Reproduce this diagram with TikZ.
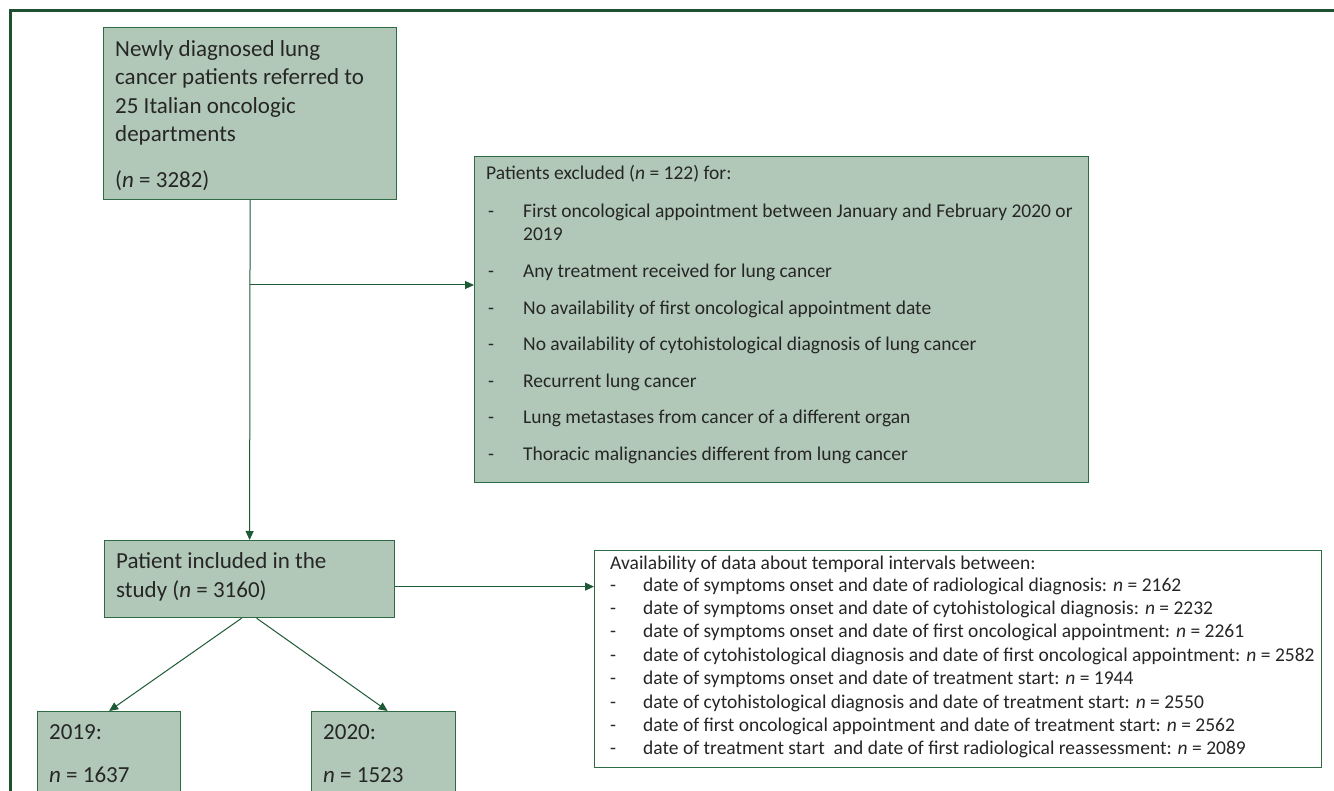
\documentclass[tikz,border=0pt]{standalone}
\usepackage{fontspec}
\setmainfont{Carlito}
\usetikzlibrary{arrows.meta,calc}
\definecolor{boxfill}{HTML}{B1C8B8}
\definecolor{boxline}{HTML}{2E6B45}
\definecolor{framec}{HTML}{1F5032}
\definecolor{arrowc}{HTML}{1E5A36}
\definecolor{txt}{HTML}{262626}
\tikzset{
  box/.style={draw=boxline, fill=boxfill, line width=1.2pt, inner sep=0pt, anchor=north west},
  wbox/.style={draw=boxline, fill=white, line width=1.2pt, inner sep=0pt, anchor=north west},
  arr/.style={draw=arrowc, line width=1pt, -{Triangle[length=9pt,width=8pt]}},
  txtbase/.style={text=txt, inner sep=0pt, anchor=base west, align=left},
  big/.style={txtbase, font=\fontsize{23}{28.5}\selectfont},
  mid/.style={txtbase, font=\fontsize{19.5}{23}\selectfont},
}
\begin{document}
\begin{tikzpicture}[x=1pt,y=-1pt]
\clip (0,0) rectangle (1334,791);
\fill[white] (0,0) rectangle (1334,791);
% frame
\draw[draw=framec, line width=3pt] (10,800) -- (10,11) -- (1340,11);

% boxes
\node[box, minimum width=293pt, minimum height=172pt] (top) at (103,27) {};
\node[box, minimum width=614pt, minimum height=326pt] (excl) at (474,156) {};
\node[box, minimum width=290pt, minimum height=77pt] (inc) at (104,540) {};
\node[wbox, minimum width=727pt, minimum height=217pt] (avail) at (594,550) {};
\node[box, minimum width=143pt, minimum height=85pt] (y19) at (37,711) {};
\node[box, minimum width=144pt, minimum height=85pt] (y20) at (311,711) {};

% texts (multi-line texts are placed by the baseline of their last line)
\node[big] (ttop) at (115,142) {Newly diagnosed lung\\cancer patients referred to\\25 Italian oncologic\\departments};
\node[big] (ntop) at (115,188) {(\textit{n} = 3282)};
\node[big] (tinc) at (116,597) {Patient included in the\\study (\textit{n} = 3160)};
\node[big] (t19a) at (49,739) {2019:};
\node[big] (t19b) at (49,782) {\textit{n} = 1637};
\node[big] (t20a) at (323,739) {2020:};
\node[big] (t20b) at (323,782) {\textit{n} = 1523};

\node[mid] (texcl) at (486,180) {Patients excluded (\textit{n} = 122) for:};
\node[mid] (ed1) at (488,218) {-};
\node[mid] (et1) at (523,241) {First oncological appointment between January and February 2020 or\\2019};
\foreach \t [count=\i] in {Any treatment received for lung cancer,
  No availability of first oncological appointment date,
  No availability of cytohistological diagnosis of lung cancer,
  Recurrent lung cancer,
  Lung metastases from cancer of a different organ,
  Thoracic malignancies different from lung cancer}{
  \node[mid] (edx\i) at (488,241.5+36.5*\i) {-};
  \node[mid] (etx\i) at (523,241.5+36.5*\i) {\t};
}

\node[mid] (tavail) at (610,569) {Availability of data about temporal intervals between:};
\foreach \t [count=\i] in {date of symptoms onset and date of radiological diagnosis: \textit{n} = 2162,
  date of symptoms onset and date of cytohistological diagnosis: \textit{n} = 2232,
  date of symptoms onset and date of first oncological appointment: \textit{n} = 2261,
  date of cytohistological diagnosis and date of first oncological appointment: \textit{n} = 2582,
  date of symptoms onset and date of treatment start: \textit{n} = 1944,
  date of cytohistological diagnosis and date of treatment start: \textit{n} = 2550,
  date of first oncological appointment and date of treatment start: \textit{n} = 2562,
  date of treatment start\ \ and date of first radiological reassessment: \textit{n} = 2089}{
  \node[mid] (ad\i) at (610,567.6+23.4*\i) {-};
  \node[mid] (at\i) at (643,567.6+23.4*\i) {\t};
}

% connectors
\draw[arr] (top.south) -- (inc.north);
\coordinate (br) at (249.5,285);
\draw[arr] (br) -- (br -| excl.west);
\path ([yshift=-7.5pt]inc.east) coordinate (ia);
\draw[arr] (ia) -- (ia -| avail.west);
\draw[arr] ([xshift=-8pt]inc.south) -- (y19.north);
\draw[arr] ([xshift=7pt]inc.south) -- ([xshift=4pt]y20.north);
\end{tikzpicture}
\end{document}
